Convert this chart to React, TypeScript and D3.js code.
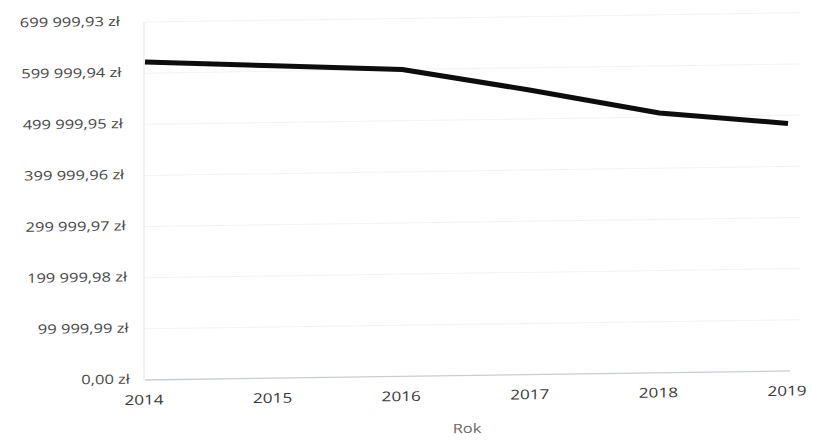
import React from "react";
import * as d3 from "d3";

const years = [2014, 2015, 2016, 2017, 2018, 2019];
const values = [622000, 611000, 600000, 556000, 508000, 484000];
const yTickValues = [0, 99999.99, 199999.98, 299999.97, 399999.96, 499999.95, 599999.94, 699999.93];
const yTickLabels = ["0,00 zł", "99 999,99 zł", "199 999,98 zł", "299 999,97 zł", "399 999,96 zł", "499 999,95 zł", "599 999,94 zł", "699 999,93 zł"];
const xTitle = "Rok";

const W = 813;
const H = 443;

export default function App() {
  const x = d3.scaleLinear().domain([2014, 2019]).range([145, 788]);
  const y = d3.scaleLinear().domain([0, 699999.93]).range([380, 22]);
  const line = d3
    .line<number>()
    .x((_, i) => x(years[i]))
    .y((d) => y(d))
    .curve(d3.curveLinear);
  const skew = -0.014;
  const stretch = 1.27;
  const font = "'Open Sans', 'Noto Sans', sans-serif";
  return (
    <svg width={W} height={H} style={{ position: "absolute", left: 0, top: 0, background: "#fff" }}>
      <g transform={`matrix(1, ${skew}, 0, 1, 0, ${-skew * 145})`}>
        {yTickValues.map((v, i) =>
          i === 0 ? null : (
            <line key={"g" + i} x1={145} x2={800} y1={y(v)} y2={y(v)} stroke="#f3f3f3" strokeWidth={1} />
          )
        )}
        <line x1={144} x2={144} y1={y(699999.93)} y2={y(0)} stroke="#e4e4e4" strokeWidth={1} />
        <line x1={145} x2={790} y1={y(0)} y2={y(0)} stroke="#c9ced3" strokeWidth={1.3} />
        {yTickValues.map((v, i) => {
          const ty = y(v);
          const tx = 120 + 0.028 * (ty - 22);
          return (
            <text
              key={"yl" + i}
              transform={`translate(${tx},${ty}) scale(${stretch},1)`}
              textAnchor="end"
              dominantBaseline="middle"
              fontFamily={font}
              fontSize={13}
              fill="#474747"
            >
              {yTickLabels[i]}
            </text>
          );
        })}
        {years.map((yr) => (
          <text
            key={"xl" + yr}
            transform={`translate(${x(yr) - 1},401) scale(${stretch},1)`}
            textAnchor="middle"
            dominantBaseline="middle"
            fontFamily={font}
            fontSize={13.5}
            fill="#383838"
          >
            {yr}
          </text>
        ))}
        <text
          transform={`translate(467,434) scale(${stretch},1)`}
          textAnchor="middle"
          dominantBaseline="middle"
          fontFamily={font}
          fontSize={13}
          fill="#6a6a6a"
        >
          {xTitle}
        </text>
        <path d={line(values) || ""} fill="none" stroke="#0d0d0d" strokeWidth={5} strokeLinejoin="round" />
      </g>
    </svg>
  );
}
